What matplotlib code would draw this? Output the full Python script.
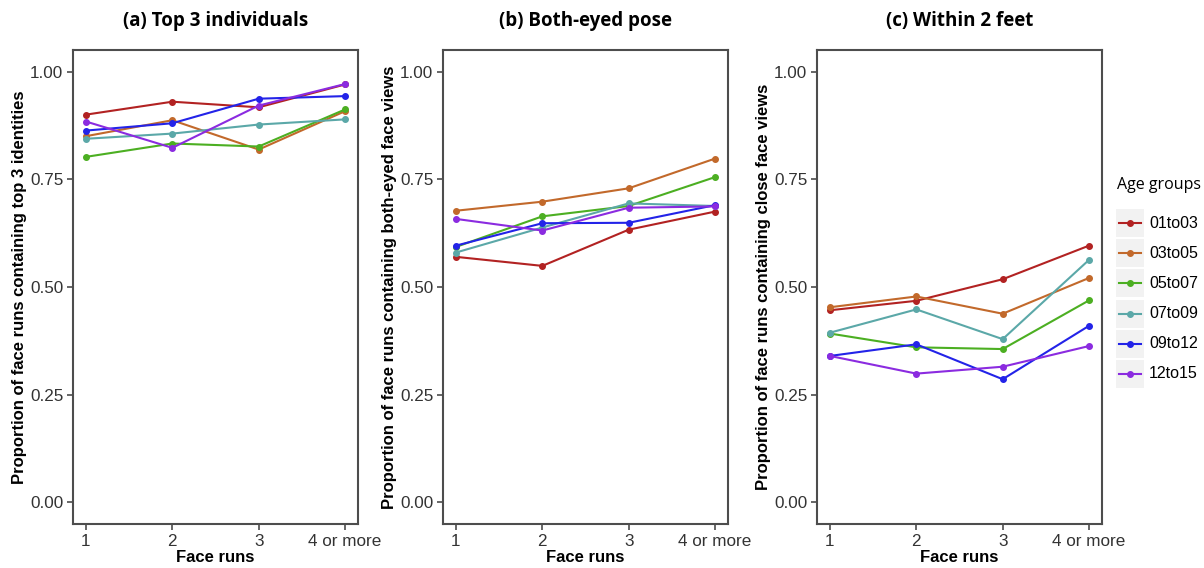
import matplotlib
matplotlib.use('Agg')
import matplotlib.pyplot as plt
from matplotlib.patches import Rectangle
from matplotlib.lines import Line2D

runs = [1, 2, 3, 4]
run_labels = ['1', '2', '3', '4 or more']
groups = ['01to03', '03to05', '05to07', '07to09', '09to12', '12to15']
colors = ['#B22222', '#C2692B', '#4CAF22', '#5BA8A8', '#2323E8', '#8B2BE0']

# (a) Top 3 individuals
top3 = {
    '01to03': [0.900, 0.930, 0.917, 0.970],
    '03to05': [0.850, 0.887, 0.819, 0.908],
    '05to07': [0.802, 0.833, 0.826, 0.912],
    '07to09': [0.844, 0.856, 0.877, 0.889],
    '09to12': [0.863, 0.880, 0.937, 0.943],
    '12to15': [0.884, 0.823, 0.921, 0.971],
}
# (b) Both-eyed pose
botheyed = {
    '01to03': [0.570, 0.549, 0.633, 0.675],
    '03to05': [0.677, 0.698, 0.729, 0.798],
    '05to07': [0.593, 0.664, 0.688, 0.755],
    '07to09': [0.580, 0.638, 0.694, 0.688],
    '09to12': [0.596, 0.648, 0.649, 0.690],
    '12to15': [0.658, 0.631, 0.684, 0.687],
}
# (c) Within 2 feet
close = {
    '01to03': [0.446, 0.468, 0.518, 0.596],
    '03to05': [0.453, 0.478, 0.438, 0.521],
    '05to07': [0.392, 0.360, 0.356, 0.469],
    '07to09': [0.394, 0.448, 0.379, 0.563],
    '09to12': [0.340, 0.367, 0.286, 0.410],
    '12to15': [0.340, 0.299, 0.315, 0.363],
}

panels = [
    ('(a) Top 3 individuals', 'Proportion of face runs containing top 3 identities', top3),
    ('(b) Both-eyed pose', 'Proportion of face runs containing both-eyed face views', botheyed),
    ('(c) Within 2 feet', 'Proportion of face runs containing close face views', close),
]

W, H = 1204, 568
fig = plt.figure(figsize=(W / 100, H / 100), dpi=100)
lefts = [73, 443, 817]
axw = 285
bottom, top = 524, 50
grey = '#4D4D4D'

for (title, ylabel, data), left in zip(panels, lefts):
    ax = fig.add_axes([left / W, (H - bottom) / H, axw / W, (bottom - top) / H])
    for g, c in zip(groups, colors):
        ax.plot(runs, data[g], '-o', color=c, lw=1.5, ms=4, label=g)
    ax.set_xlim(0.85, 4.15)
    ax.set_ylim(-0.05, 1.05)
    ax.set_xticks(runs)
    ax.set_xticklabels(run_labels)
    ax.set_yticks([0, 0.25, 0.5, 0.75, 1.0])
    ax.set_yticklabels(['0.00', '0.25', '0.50', '0.75', '1.00'])
    ax.tick_params(colors=grey, labelcolor='#333333', labelsize=12.3, length=4, width=1.2, pad=3)
    for lab in ax.get_xticklabels() + ax.get_yticklabels():
        lab.set_family('Liberation Sans')
    for s in ax.spines.values():
        s.set_color(grey)
        s.set_linewidth(1.5)
    ax.set_xlabel('Face runs', family='Liberation Sans', fontweight='bold', fontsize=12, labelpad=1)
    ax.set_ylabel(ylabel, family='Liberation Sans', fontweight='bold', fontsize=12, labelpad=2)
    ax.set_title(title, family='Open Sans', fontweight='bold', fontsize=13.5, pad=17)

# legend drawn by hand in pixel coords (ggplot style keys with grey background)
fig.text(1117 / W, 1 - 185 / H, 'Age groups', family='Open Sans', fontsize=11.5, va='center', ha='left')
for i, (g, c) in enumerate(zip(groups, colors)):
    yc = 223 + i * 30.2
    fig.add_artist(Rectangle((1116 / W, 1 - (yc + 14) / H), 28 / W, 28 / H,
                             transform=fig.transFigure, facecolor='#F2F2F2', edgecolor='none'))
    fig.add_artist(Line2D([1119 / W, 1141 / W], [1 - yc / H, 1 - yc / H], transform=fig.transFigure,
                          color=c, lw=1.5))
    fig.add_artist(Line2D([1130 / W], [1 - yc / H], transform=fig.transFigure,
                          color=c, marker='o', ms=4, lw=0))
    fig.text(1149 / W, 1 - yc / H, g, family='Liberation Sans', fontsize=11.5, va='center', ha='left')

fig.savefig('out.png', dpi=100)
